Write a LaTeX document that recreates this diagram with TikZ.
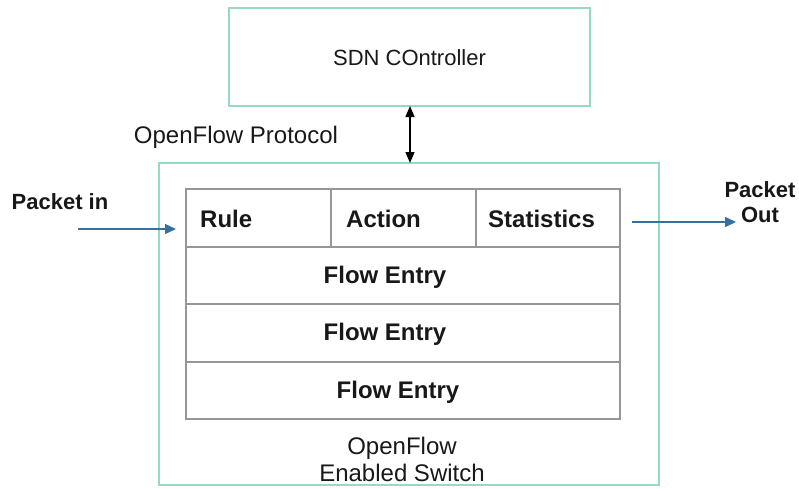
\documentclass[tikz,border=0pt]{standalone}
\usepackage{fontspec}
\setmainfont{Liberation Sans}
\usetikzlibrary{arrows.meta}
\definecolor{boxgreen}{RGB}{150,218,196}
\definecolor{cellgray}{RGB}{150,150,150}
\definecolor{flowblue}{RGB}{52,112,160}
\definecolor{ink}{RGB}{24,24,24}
\tikzset{
  outerbox/.style={draw=boxgreen, line width=1.8pt, inner sep=0pt},
  cellbox/.style={draw=cellgray, line width=1.6pt, inner sep=0pt},
  celltext/.style={text=ink, font=\fontsize{24}{27}\selectfont\bfseries},
  plaintext/.style={text=ink, inner sep=0pt},
  dataflow/.style={draw=flowblue, line width=1.5pt, -{Triangle[length=11pt,width=10pt]}},
  control/.style={draw=black, line width=1.4pt, {Triangle[length=11pt,width=9pt]}-{Triangle[length=11pt,width=9pt]}}
}
\begin{document}
\begin{tikzpicture}[x=1pt,y=-1pt]
\useasboundingbox (0,0) rectangle (799,488);

% controller and switch frames
\draw[outerbox] (229,8) rectangle (590,106);
\node[plaintext, font=\fontsize{22}{25}\selectfont] (ctrl) at (409.5,58) {SDN COntroller};
\coordinate (ctrlbot) at (410,106);
\draw[outerbox] (159,163) rectangle (659,485);
\coordinate (swtop) at (410,163);

% flow table
\draw[cellbox] (186,189) rectangle (620,419);
\draw[cellbox] (186,247) -- (620,247);
\draw[cellbox] (186,304) -- (620,304);
\draw[cellbox] (186,362) -- (620,362);
\draw[cellbox] (331,189) -- (331,247);
\draw[cellbox] (476,189) -- (476,247);
\node[celltext, anchor=west, inner sep=0pt] (rule) at (200,219) {Rule};
\node[celltext, anchor=west, inner sep=0pt] (action) at (346,219) {Action};
\node[celltext, anchor=west, inner sep=0pt] (stats) at (488,219) {Statistics};
\node[celltext] (fe1) at (385,277) {Flow Entry};
\node[celltext] (fe2) at (385,334) {Flow Entry};
\node[celltext] (fe3) at (398,392) {Flow Entry};
\coordinate (tblin) at (176,229);
\coordinate (tblout) at (632,222);

% labels
\node[plaintext, font=\fontsize{24}{27}\selectfont] (proto) at (236,137) {OpenFlow Protocol};
\node[plaintext, font=\fontsize{24}{27}\selectfont, align=center] (swlabel) at (402,459) {OpenFlow\\Enabled Switch};
\node[plaintext, font=\fontsize{22}{25}\selectfont\bfseries] (pin) at (60,202) {Packet in};
\node[plaintext, font=\fontsize{22}{25}\selectfont\bfseries, align=center] (pout) at (760,202) {Packet\\Out};
\coordinate (pinstart) at (78,229);
\coordinate (poutend) at (736,222);

% connectors
\draw[control] (ctrlbot) -- (swtop);
\draw[dataflow] (pinstart) -- (tblin);
\draw[dataflow] (tblout) -- (poutend);
\end{tikzpicture}
\end{document}
